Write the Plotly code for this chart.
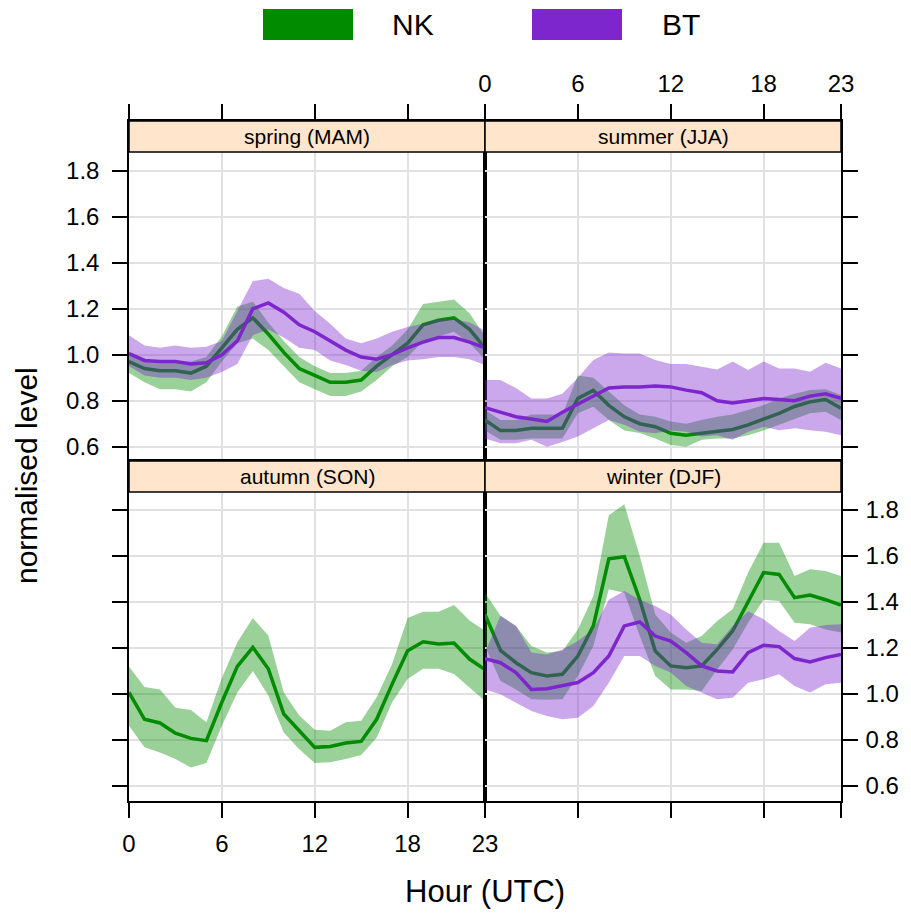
import plotly.graph_objects as go

hours = list(range(24))
x_ticks = [0, 6, 12, 18, 23]
y_ticks = [0.6, 0.8, 1.0, 1.2, 1.4, 1.6, 1.8]
y_tick_labels = ["0.6", "0.8", "1.0", "1.2", "1.4", "1.6", "1.8"]
series_names = ["NK", "BT"]
panel_titles = ["spring (MAM)", "summer (JJA)", "autumn (SON)", "winter (DJF)"]

# spring
spring_nk = [0.97,0.94,0.93,0.93,0.92,0.95,1.03,1.11,1.16,1.09,1.01,0.94,0.91,0.88,0.88,0.89,0.95,1.00,1.05,1.13,1.15,1.16,1.11,1.03]
spring_nk_lo = [0.92,0.88,0.85,0.85,0.84,0.88,0.97,1.05,1.07,1.02,0.95,0.88,0.85,0.82,0.82,0.84,0.89,0.95,0.99,1.06,1.08,1.10,1.05,0.98]
spring_nk_hi = [1.01,0.98,0.97,0.97,0.97,0.99,1.08,1.21,1.23,1.14,1.06,0.99,0.95,0.92,0.92,0.93,0.99,1.04,1.11,1.22,1.23,1.24,1.18,1.08]
spring_bt = [1.005,0.975,0.97,0.97,0.96,0.965,1.0,1.06,1.2,1.225,1.185,1.13,1.10,1.06,1.02,0.99,0.98,1.0,1.03,1.055,1.075,1.075,1.055,1.03]
spring_bt_lo = [0.95,0.91,0.90,0.90,0.89,0.90,0.925,0.96,1.085,1.11,1.075,1.03,1.02,0.975,0.955,0.93,0.925,0.955,0.975,0.98,0.99,0.99,0.98,0.955]
spring_bt_hi = [1.085,1.04,1.03,1.04,1.03,1.035,1.06,1.19,1.32,1.33,1.29,1.265,1.19,1.135,1.07,1.05,1.07,1.10,1.12,1.135,1.155,1.155,1.14,1.105]

# summer
summer_nk = [0.716,0.67,0.67,0.68,0.68,0.68,0.81,0.845,0.78,0.73,0.70,0.687,0.658,0.65,0.658,0.665,0.675,0.695,0.72,0.745,0.775,0.795,0.805,0.767]
summer_nk_lo = [0.67,0.63,0.63,0.636,0.636,0.636,0.745,0.774,0.716,0.67,0.66,0.636,0.607,0.60,0.63,0.636,0.636,0.65,0.67,0.695,0.72,0.745,0.752,0.716]
summer_nk_hi = [0.76,0.716,0.716,0.74,0.74,0.74,0.91,0.90,0.84,0.78,0.74,0.73,0.71,0.70,0.716,0.73,0.74,0.76,0.78,0.81,0.83,0.846,0.85,0.825]
summer_bt = [0.77,0.748,0.73,0.72,0.71,0.75,0.785,0.82,0.855,0.86,0.86,0.864,0.86,0.846,0.835,0.80,0.79,0.80,0.81,0.805,0.80,0.82,0.83,0.81]
summer_bt_lo = [0.636,0.615,0.615,0.63,0.60,0.62,0.644,0.68,0.716,0.695,0.665,0.658,0.67,0.665,0.644,0.65,0.63,0.665,0.687,0.672,0.68,0.672,0.665,0.65]
summer_bt_hi = [0.89,0.89,0.855,0.81,0.81,0.83,0.90,0.977,1.01,1.005,1.005,0.977,0.96,0.96,0.948,0.936,0.97,0.933,0.97,0.94,0.94,0.926,0.965,0.94]

# autumn (NK only)
autumn_nk = [1.007,0.89,0.874,0.83,0.807,0.797,0.964,1.12,1.203,1.11,0.913,0.84,0.768,0.772,0.787,0.794,0.89,1.043,1.188,1.227,1.217,1.222,1.152,1.106]
autumn_nk_lo = [0.862,0.768,0.746,0.717,0.68,0.70,0.862,1.007,1.10,0.993,0.833,0.76,0.70,0.703,0.717,0.735,0.81,0.964,1.065,1.11,1.11,1.087,1.03,0.97]
autumn_nk_hi = [1.12,1.03,1.02,0.94,0.93,0.877,1.07,1.225,1.33,1.254,1.007,0.906,0.845,0.84,0.877,0.884,0.986,1.13,1.33,1.358,1.358,1.387,1.32,1.275]

# winter
winter_nk = [1.346,1.19,1.136,1.093,1.078,1.086,1.165,1.296,1.588,1.597,1.41,1.187,1.122,1.114,1.122,1.194,1.274,1.404,1.528,1.52,1.419,1.43,1.41,1.386]
winter_nk_lo = [1.209,1.057,1.02,0.977,0.975,0.977,1.078,1.209,1.455,1.44,1.252,1.078,1.02,1.02,1.013,1.107,1.194,1.31,1.41,1.404,1.31,1.303,1.28,1.267]
winter_nk_hi = [1.44,1.34,1.296,1.209,1.18,1.187,1.28,1.426,1.777,1.825,1.60,1.346,1.267,1.223,1.252,1.317,1.368,1.528,1.658,1.658,1.513,1.542,1.535,1.513]
winter_bt = [1.154,1.136,1.093,1.02,1.023,1.035,1.05,1.093,1.165,1.296,1.313,1.252,1.23,1.18,1.122,1.10,1.096,1.18,1.212,1.206,1.154,1.139,1.158,1.172]
winter_bt_lo = [1.02,0.999,0.962,0.926,0.904,0.89,0.897,0.948,1.049,1.165,1.165,1.122,1.093,1.035,1.006,0.977,0.984,1.049,1.064,1.086,1.035,1.006,1.042,1.049]
winter_bt_hi = [1.18,1.34,1.296,1.18,1.172,1.194,1.23,1.28,1.41,1.448,1.41,1.383,1.346,1.28,1.223,1.216,1.296,1.36,1.325,1.274,1.23,1.288,1.30,1.303]

GREEN = "rgb(0,139,0)"
GREEN_F = "rgba(0,139,0,0.4)"
PURPLE = "rgb(125,38,205)"
PURPLE_F = "rgba(125,38,205,0.4)"

# the page body has an 8px margin; keep the figure inside the window without overflow
OFF = 8
W, H = 911 - 2 * OFF, 917 - 2 * OFF
def px(v): return (v - OFF) / W
def py(v): return 1 - (v - OFF) / H

FONT = "Liberation Sans, Arial, sans-serif"

fig = go.Figure()

panels = [
    ("x", "y", [(spring_nk, spring_nk_lo, spring_nk_hi, GREEN, GREEN_F),
                (spring_bt, spring_bt_lo, spring_bt_hi, PURPLE, PURPLE_F)]),
    ("x2", "y2", [(summer_nk, summer_nk_lo, summer_nk_hi, GREEN, GREEN_F),
                  (summer_bt, summer_bt_lo, summer_bt_hi, PURPLE, PURPLE_F)]),
    ("x3", "y3", [(autumn_nk, autumn_nk_lo, autumn_nk_hi, GREEN, GREEN_F)]),
    ("x4", "y4", [(winter_nk, winter_nk_lo, winter_nk_hi, GREEN, GREEN_F),
                  (winter_bt, winter_bt_lo, winter_bt_hi, PURPLE, PURPLE_F)]),
]

for xa, ya, series in panels:
    for mean, lo, hi, col, fcol in series:
        fig.add_trace(go.Scatter(
            x=hours + hours[::-1], y=hi + lo[::-1], fill="toself",
            fillcolor=fcol, line=dict(width=0), mode="lines",
            hoverinfo="skip", showlegend=False, xaxis=xa, yaxis=ya))
        fig.add_trace(go.Scatter(
            x=hours, y=mean, mode="lines", line=dict(color=col, width=3.5),
            showlegend=False, xaxis=xa, yaxis=ya))

# layout geometry (window pixels)
LX0, MX, RX1 = 129, 485, 841
TOP_Y0, TOP_Y1 = 121, 460      # top row incl. strip
BOT_Y0, BOT_Y1 = 461, 801      # bottom row incl. strip
STRIP_H = 31

top_range = [1 - (TOP_Y1 - 354.7) / 230, 1 + (354.7 - TOP_Y0) / 230]
bot_range = [1 - (BOT_Y1 - 694.0) / 230, 1 + (694.0 - BOT_Y0) / 230]

common_x = dict(range=[0, 23], tickvals=x_ticks, ticktext=[str(t) for t in x_ticks],
                showgrid=True, gridcolor="#E1E1E1", gridwidth=1.5, zeroline=False,
                showline=True, linecolor="black", linewidth=1.5, mirror=True,
                ticks="outside", ticklen=15, tickwidth=1.5, tickcolor="black",
                tickfont=dict(family=FONT, size=24, color="black"),
                automargin=False)
common_y = dict(tickvals=y_ticks, ticktext=y_tick_labels,
                showgrid=True, gridcolor="#E1E1E1", gridwidth=1.5, zeroline=False,
                showline=True, linecolor="black", linewidth=1.5, mirror=True,
                ticks="outside", ticklen=15, tickwidth=1.5, tickcolor="black",
                tickfont=dict(family=FONT, size=24, color="black"),
                ticklabelstandoff=8, automargin=False)

fig.update_layout(
    xaxis=dict(common_x, domain=[px(LX0), px(MX)], anchor="y", side="top", showticklabels=False),
    yaxis=dict(common_y, domain=[py(TOP_Y1), py(TOP_Y0)], anchor="x", side="left", range=top_range, showticklabels=True),
    xaxis2=dict(common_x, domain=[px(MX), px(RX1)], anchor="y2", side="top", showticklabels=True, ticklabelstandoff=3),
    yaxis2=dict(common_y, domain=[py(TOP_Y1), py(TOP_Y0)], anchor="x2", side="right", range=top_range, showticklabels=False),
    xaxis3=dict(common_x, domain=[px(LX0), px(MX)], anchor="y3", side="bottom", showticklabels=True, ticklabelstandoff=5),
    yaxis3=dict(common_y, domain=[py(BOT_Y1), py(BOT_Y0)], anchor="x3", side="left", range=bot_range, showticklabels=False),
    xaxis4=dict(common_x, domain=[px(MX), px(RX1)], anchor="y4", side="bottom", showticklabels=False),
    yaxis4=dict(common_y, domain=[py(BOT_Y1), py(BOT_Y0)], anchor="x4", side="right", range=bot_range, showticklabels=True, ticklabelstandoff=3),
)

shapes = []
annotations = []
strip_pos = [(LX0, MX, TOP_Y0), (MX, RX1, TOP_Y0), (LX0, MX, BOT_Y0), (MX, RX1, BOT_Y0)]
for (x0, x1, y0), title in zip(strip_pos, panel_titles):
    shapes.append(dict(type="rect", xref="paper", yref="paper", layer="above",
                       x0=px(x0), x1=px(x1), y0=py(y0 + STRIP_H), y1=py(y0),
                       fillcolor="#FFE5CC", line=dict(color="black", width=1.5)))
    annotations.append(dict(xref="paper", yref="paper", x=px((x0 + x1) / 2), y=py(y0 + STRIP_H / 2),
                            text=title, showarrow=False, xanchor="center", yanchor="middle",
                            font=dict(family=FONT, size=21, color="black")))

# legend keys
legend_items = [(263, 353, 390, series_names[0], GREEN), (532, 622, 660, series_names[1], PURPLE)]
for x0, x1, tx, name, col in legend_items:
    shapes.append(dict(type="rect", xref="paper", yref="paper", x0=px(x0), x1=px(x1),
                       y0=py(40), y1=py(9), fillcolor=col, line=dict(width=0)))
    annotations.append(dict(xref="paper", yref="paper", x=px(tx), y=py(25), text=name,
                            showarrow=False, xanchor="left", yanchor="middle",
                            font=dict(family=FONT, size=30, color="black")))

annotations.append(dict(xref="paper", yref="paper", x=px(485), y=py(891), text="Hour (UTC)",
                        showarrow=False, xanchor="center", yanchor="middle",
                        font=dict(family=FONT, size=31, color="black")))
annotations.append(dict(xref="paper", yref="paper", x=px(26), y=py(476), text="normalised level",
                        showarrow=False, xanchor="center", yanchor="middle", textangle=-90,
                        font=dict(family=FONT, size=30, color="black")))

fig.update_layout(width=W, height=H, margin=dict(l=0, r=0, t=0, b=0),
                  paper_bgcolor="white", plot_bgcolor="white", showlegend=False,
                  shapes=shapes, annotations=annotations)

fig.write_html("out.html")
